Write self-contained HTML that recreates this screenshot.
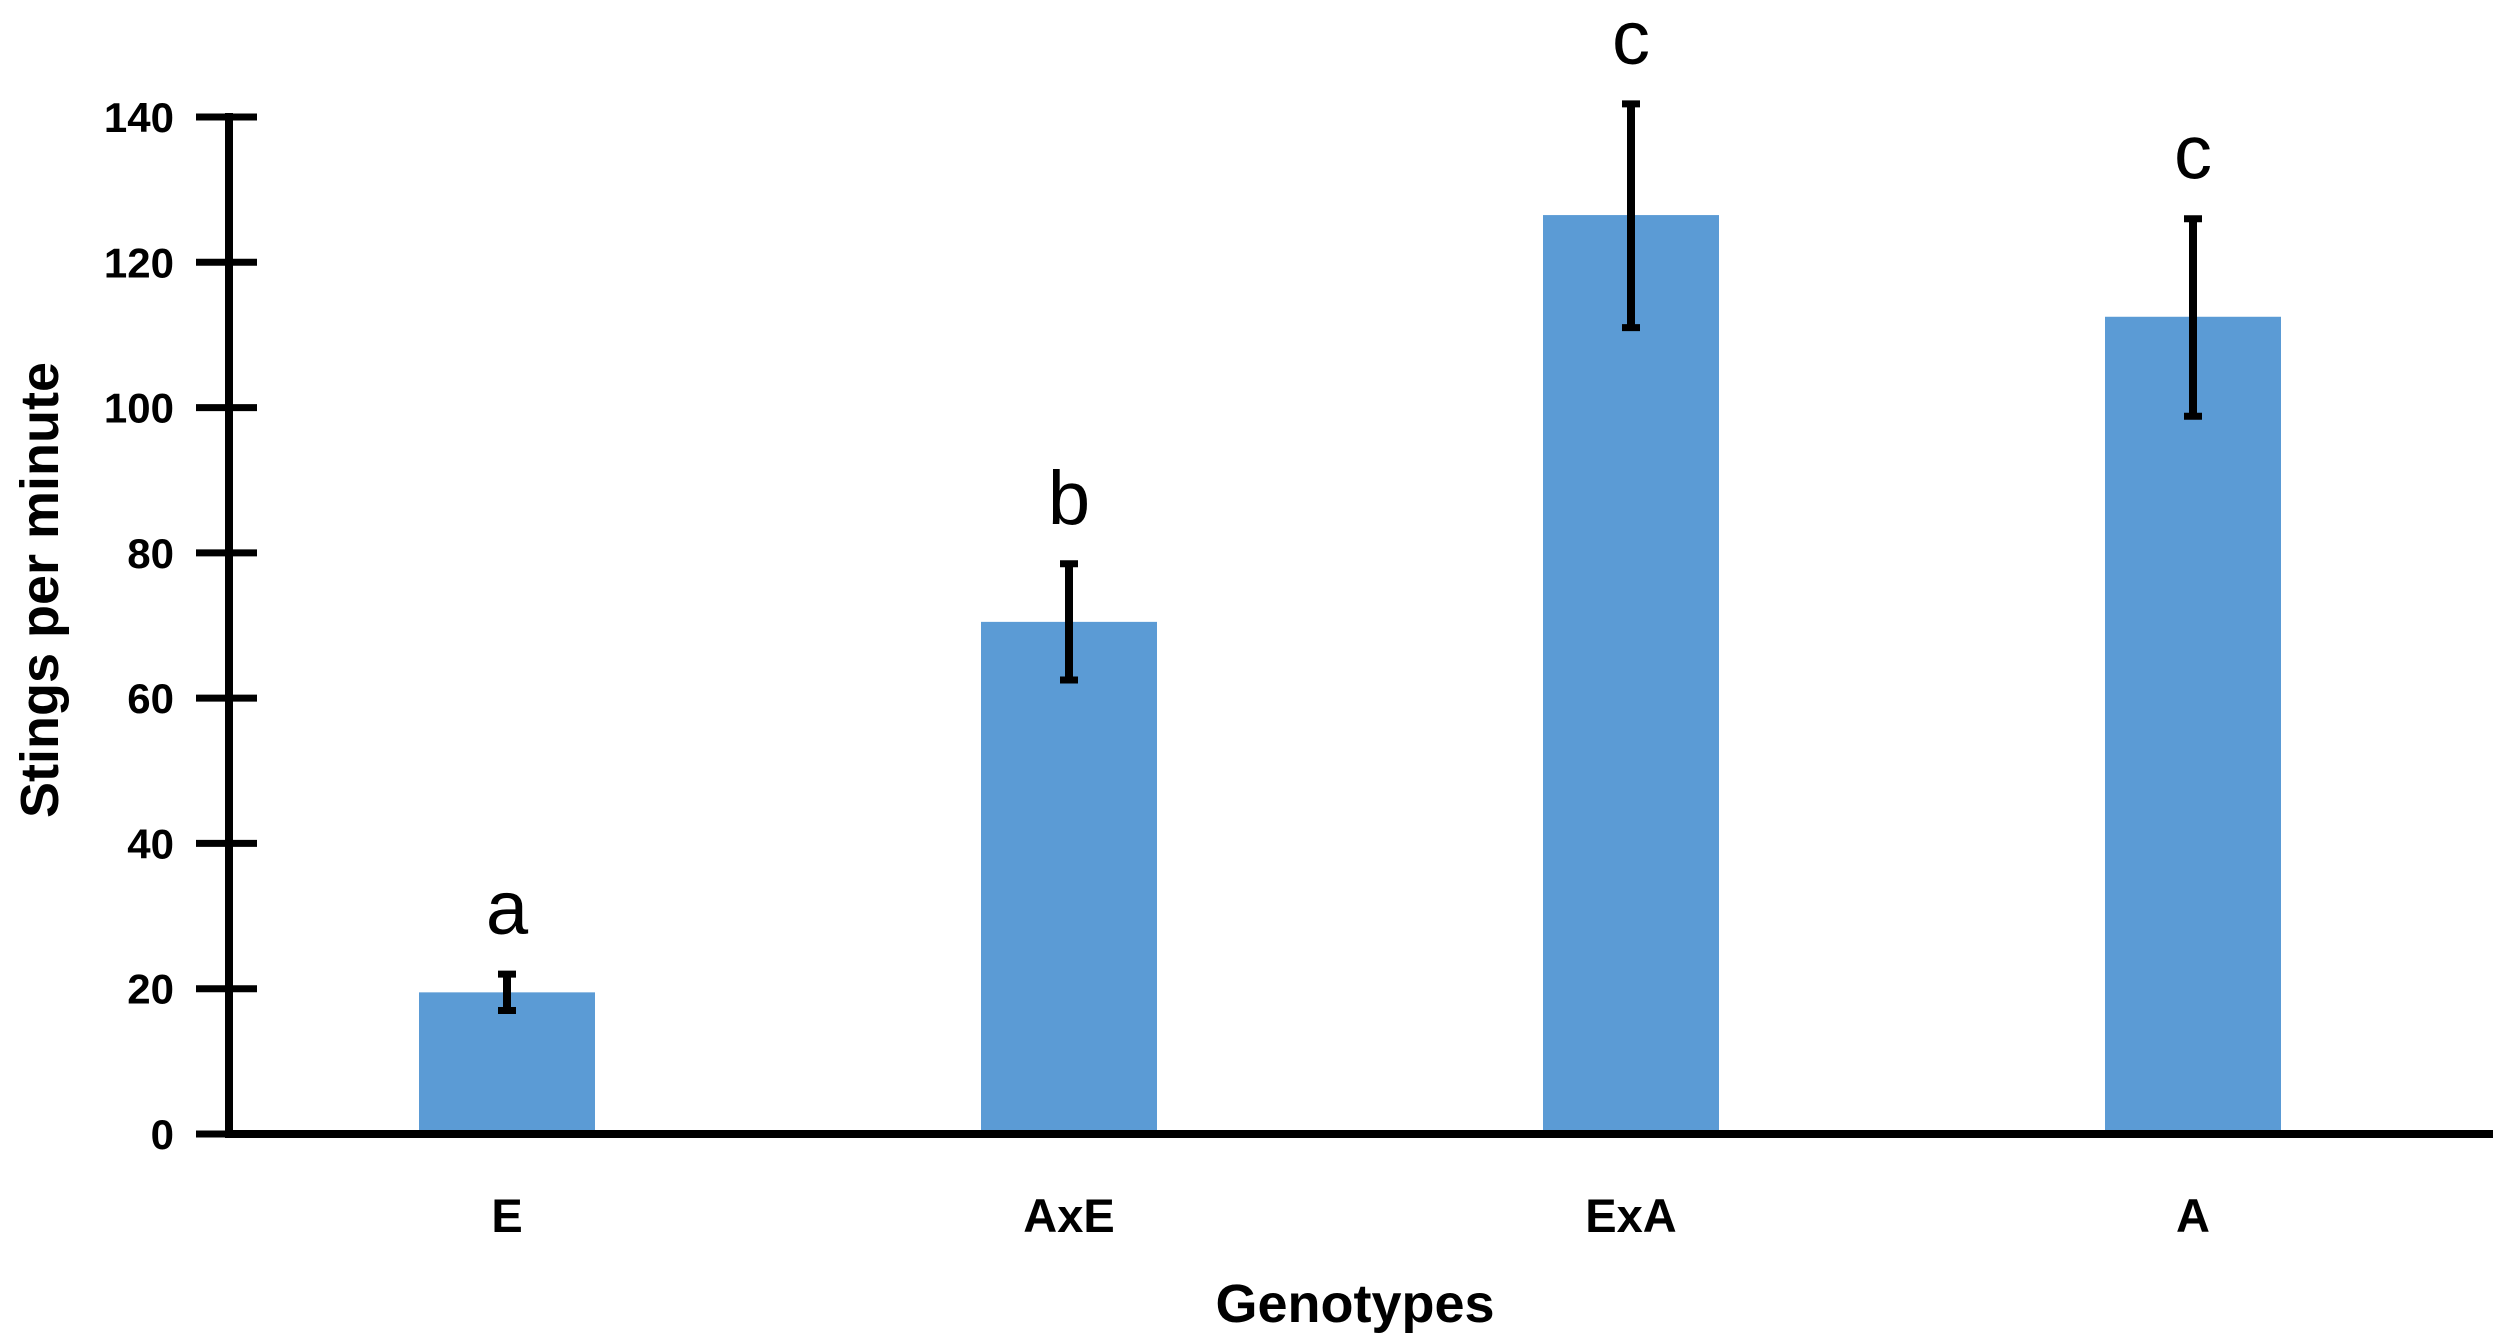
<!DOCTYPE html>
<html><head><meta charset="utf-8"><style>
html,body{margin:0;padding:0;background:#fff;}
svg{display:block;}
</style></head><body>
<svg id="chart" width="2500" height="1343" viewBox="0 0 2500 1343" xmlns="http://www.w3.org/2000/svg" font-family="Liberation Sans, sans-serif">
<g id="grid"></g>
<text x="0" y="0" transform="translate(58,590) rotate(-90)" text-anchor="middle" font-size="54" font-weight="bold" fill="#000">Stings per minute</text>
<text x="1355" y="1322" text-anchor="middle" font-size="54" font-weight="bold" fill="#000">Genotypes</text>
</svg>
<script>
const categories = ["E", "AxE", "ExA", "A"];
const values = [19.5, 70.5, 126.5, 112.5];
const errUpper = [22, 78.5, 141.8, 126];
const errLower = [17, 62.5, 111, 98.8];
const sigLetters = ["a", "b", "c", "c"];
const yTicks = [0, 20, 40, 60, 80, 100, 120, 140];

const NS = "http://www.w3.org/2000/svg";
const svg = document.getElementById('chart');
const g = document.getElementById('grid');
const x0 = 229, y0 = 1134, yTop = 117, yMax = 140;
const xFirst = 507, xStep = 562, barW = 176;
function yS(v){ return y0 - (v / yMax) * (y0 - yTop); }
function xS(i){ return xFirst + i * xStep; }
function mk(tag, attrs){ const e = document.createElementNS(NS, tag); for (const k in attrs) e.setAttribute(k, attrs[k]); g.appendChild(e); return e; }

categories.forEach((c, i) => {
  const r = mk('rect', {x: xS(i) - barW/2, y: yS(values[i]), width: barW, height: y0 - yS(values[i]), fill: '#5b9bd5'});
  
  
});
const ya = mk('line', {x1: x0, y1: yTop - 4, x2: x0, y2: y0 + 4, stroke: '#000', 'stroke-width': 8});


const xa = mk('line', {x1: x0 - 4, y1: y0, x2: 2493, y2: y0, stroke: '#000', 'stroke-width': 8});


yTicks.forEach(t => {
  const l = mk('line', {x1: 196, y1: yS(t), x2: 257, y2: yS(t), stroke: '#000', 'stroke-width': 7});
  
  
  const tx = mk('text', {x: 174, y: yS(t) + 15, 'text-anchor': 'end', 'font-size': 42, 'font-weight': 'bold', fill: '#000'});
  tx.textContent = t;
  
  
});
categories.forEach((c, i) => {
  const cx = xS(i);
  const e = mk('line', {x1: cx, y1: yS(errUpper[i]), x2: cx, y2: yS(errLower[i]), stroke: '#000', 'stroke-width': 8});
  
  
  [errUpper[i], errLower[i]].forEach(v => {
    const cap = mk('line', {x1: cx - 9, y1: yS(v), x2: cx + 9, y2: yS(v), stroke: '#000', 'stroke-width': 7});
    
    
  });
  const s = mk('text', {x: cx, y: yS(errUpper[i]) - 40, 'text-anchor': 'middle', 'font-size': 76, fill: '#000'});
  s.textContent = sigLetters[i];
  
  
  const xl = mk('text', {x: cx, y: 1232, 'text-anchor': 'middle', 'font-size': 47, 'font-weight': 'bold', fill: '#000'});
  xl.textContent = c;
  
  
});
</script>
</body></html>
